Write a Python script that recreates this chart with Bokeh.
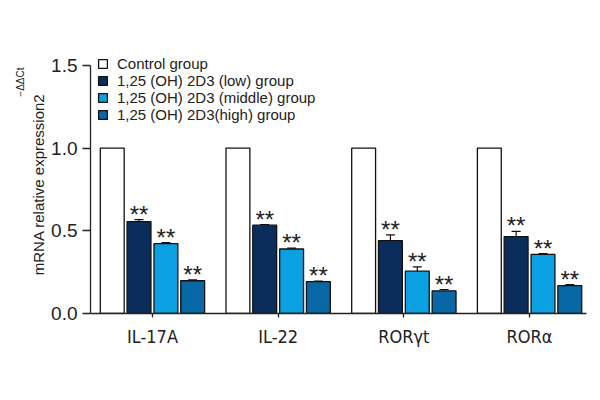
import numpy as np
from bokeh.plotting import figure
from bokeh.models import (ColumnDataSource, Range1d, FixedTicker, Legend, LegendItem,
                          Whisker, TeeHead, Title, PrintfTickFormatter)
from bokeh.core.properties import value
from bokeh.embed import file_html
from bokeh.resources import INLINE

categories = ["IL-17A", "IL-22", "RORγt", "RORα"]
series_names = ["Control group", "1,25 (OH) 2D3 (low) group",
                "1,25 (OH) 2D3 (middle) group", "1,25 (OH) 2D3(high) group"]
control = [1.0, 1.0, 1.0, 1.0]
low = [0.556, 0.534, 0.441, 0.465]
middle = [0.423, 0.390, 0.256, 0.357]
high = [0.198, 0.193, 0.137, 0.169]
err_low = [0.012, 0.004, 0.034, 0.032]
err_middle = [0.005, 0.005, 0.026, 0.005]
err_high = [0.005, 0.003, 0.008, 0.005]
y_ticks = [0.0, 0.5, 1.0, 1.5]
y_label = "mRNA relative expression2"
y_label_sup = "−ΔΔCt"

colors = ["#ffffff", "#0b2d5b", "#0aa0e1", "#0867a5"]
offsets = [-0.32, -0.107, 0.107, 0.32]
bar_w = 0.19

FONT = "Liberation Sans"
NARROW = "Liberation Sans Narrow, DejaVu Sans Condensed, sans-serif"
INK = "#222222"

p = figure(width=592, height=392, output_backend="svg", toolbar_location=None,
           x_range=Range1d(-0.493, 3.453), y_range=Range1d(0, 1.56),
           min_border_left=90, min_border_right=6, min_border_top=55, min_border_bottom=79)
p.outline_line_color = None
p.grid.visible = False
p.background_fill_color = "white"

idx = np.arange(len(categories))
vals = [control, low, middle, high]
errs = [None, err_low, err_middle, err_high]
renderers = []
for k in range(4):
    src = ColumnDataSource(dict(x=idx + offsets[k], top=vals[k]))
    r = p.vbar(x="x", top="top", width=bar_w, source=src, fill_color=colors[k],
               line_color="#111111", line_width=1.3)
    renderers.append(r)
    if errs[k] is not None:
        upper = np.array(vals[k]) + np.array(errs[k])
        esrc = ColumnDataSource(dict(x=idx + offsets[k], lower=vals[k], upper=upper,
                                     star=["**"] * len(categories)))
        w = Whisker(source=esrc, base="x", lower="lower", upper="upper",
                    line_color="#111111", line_width=1.2,
                    upper_head=TeeHead(size=9, line_color="#111111", line_width=1.2),
                    lower_head=None)
        p.add_layout(w)
        p.text(x="x", y="upper", text="star", source=esrc, text_align="center",
               text_baseline="bottom", y_offset=8, text_font=value(FONT),
               text_font_size="24px", text_color=INK)

# axes
p.yaxis.ticker = FixedTicker(ticks=y_ticks)
p.yaxis.formatter = PrintfTickFormatter(format="%.1f")
p.yaxis.bounds = (0, 1.5)
p.yaxis.major_tick_out = 8
p.yaxis.major_tick_in = 0
p.yaxis.minor_tick_line_color = None
p.yaxis.major_label_text_font = FONT
p.yaxis.major_label_text_font_size = "19px"
p.yaxis.major_label_text_color = INK
p.yaxis.major_label_standoff = 5

p.xaxis.ticker = FixedTicker(ticks=list(idx))
p.xaxis.major_label_overrides = {int(i): c for i, c in zip(idx, categories)}
p.xaxis.major_tick_out = 4
p.xaxis.major_tick_in = 0
p.xaxis.minor_tick_line_color = None
p.xaxis.major_label_text_font = NARROW
p.xaxis.major_label_text_font_size = "18px"
p.xaxis.major_label_text_color = INK
p.xaxis.major_label_standoff = 8
for ax in (p.xaxis, p.yaxis):
    ax.axis_line_width = 1.3
    ax.axis_line_color = INK
    ax.major_tick_line_width = 1.3
    ax.major_tick_line_color = INK

# y axis title with superscript, as two side titles
p.add_layout(Title(text=y_label, align="right", offset=38, standoff=4,
                   text_font=FONT, text_font_size="15px", text_font_style="normal",
                   text_color=INK), "left")
p.add_layout(Title(text=y_label_sup, align="right", offset=12, standoff=0,
                   text_font=FONT, text_font_size="10px", text_font_style="normal",
                   text_color=INK), "left")

legend = Legend(items=[LegendItem(label=n, renderers=[r]) for n, r in zip(series_names, renderers)],
                location=(7, 190), glyph_width=11, glyph_height=11, label_height=11,
                spacing=-1, padding=0, margin=0, label_standoff=9,
                border_line_color=None, background_fill_alpha=0,
                label_text_font=FONT, label_text_font_size="15px",
                label_text_color=INK)
p.add_layout(legend)

open("out.html", "w").write(file_html(p, INLINE))
